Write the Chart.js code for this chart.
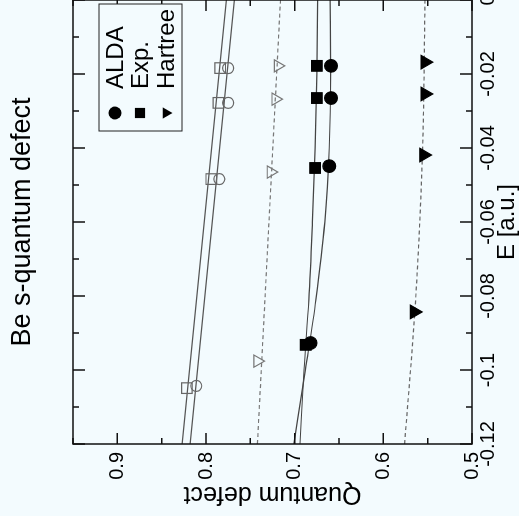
<!DOCTYPE html>
<html><head><meta charset="utf-8">
<script src="https://cdn.jsdelivr.net/npm/chart.js@4.4.1/dist/chart.umd.min.js"></script>
<style>
html,body{margin:0;padding:0;background:#f3fbfe;overflow:hidden;width:519px;height:516px;}
#wrap{position:absolute;left:0;top:0;width:516px;height:519px;transform-origin:0 0;transform:translate(0px,516px) rotate(-90deg);}
canvas{display:block;}
</style></head><body>
<div id="wrap"><canvas id="c" width="516" height="519"></canvas></div>
<script>
// ---- text ----
const TITLE = 'Be s-quantum defect';
const X_TITLE = 'E [a.u.]';
const Y_TITLE = 'Quantum defect';
const E_TICKS = [-0.12, -0.1, -0.08, -0.06, -0.04, -0.02, 0];
const E_TICK_LABELS = ['-0.12', '-0.1', '-0.08', '-0.06', '-0.04', '-0.02', '0'];
const QD_TICKS = [0.5, 0.6, 0.7, 0.8, 0.9];
const QD_TICK_LABELS = ['0.5', '0.6', '0.7', '0.8', '0.9'];
const LEGEND_LABELS = ['ALDA', 'Exp.', 'Hartree'];

// ---- filled markers ----
const E_ALDA = [-0.0178, -0.0265, -0.0449, -0.0927];
const QD_ALDA = [0.659, 0.659, 0.661, 0.682];
const E_EXP = [-0.0178, -0.0265, -0.0454, -0.0932];
const QD_EXP = [0.675, 0.675, 0.677, 0.6875];
const E_HARTREE = [-0.0168, -0.0254, -0.0419, -0.0843];
const QD_HARTREE = [0.553, 0.553, 0.5545, 0.565];

// ---- open markers ----
const E_OPEN_CIRCLE = [-0.0184, -0.0278, -0.0484, -0.1043];
const QD_OPEN_CIRCLE = [0.775, 0.775, 0.785, 0.811];
const E_OPEN_SQUARE = [-0.0184, -0.0278, -0.0484, -0.1049];
const QD_OPEN_SQUARE = [0.784, 0.786, 0.794, 0.8216];
const E_OPEN_TRIANGLE = [-0.0178, -0.0268, -0.0465, -0.0976];
const QD_OPEN_TRIANGLE = [0.719, 0.7216, 0.727, 0.742];

// ---- fitted curves ----
const E_FIT_ALDA = [-0.12, -0.1, -0.081, -0.06, -0.04, -0.02, 0];
const QD_FIT_ALDA = [0.701, 0.688, 0.676, 0.666, 0.661, 0.6595, 0.660];
const E_FIT_EXP = [-0.12, -0.1, -0.081, -0.06, -0.04, -0.02, 0];
const QD_FIT_EXP = [0.694, 0.6895, 0.684, 0.680, 0.677, 0.675, 0.674];
const E_FIT_HARTREE = [-0.12, -0.081, -0.04, 0];
const QD_FIT_HARTREE = [0.576, 0.5636, 0.5557, 0.553];
const E_FIT_OPEN_CIRCLE = [-0.12, 0];
const QD_FIT_OPEN_CIRCLE = [0.818, 0.768];
const E_FIT_OPEN_SQUARE = [-0.12, 0];
const QD_FIT_OPEN_SQUARE = [0.827, 0.777];
const E_FIT_OPEN_TRIANGLE = [-0.12, 0];
const QD_FIT_OPEN_TRIANGLE = [0.742, 0.716];

const BG = '#f3fbfe';
const FONT = '"Liberation Sans", Arial, Helvetica, sans-serif';

function pts(xs, ys) { return xs.map((v, i) => ({x: v, y: ys[i]})); }
function lookup(vals, labels, v) {
  for (let i = 0; i < vals.length; i++) if (Math.abs(vals[i] - v) < 1e-6) return labels[i];
  return '';
}

function markerSet(label, xs, ys, style, r, fill, stroke, rot, legendIdx) {
  return {
    label, data: pts(xs, ys), showLine: false,
    pointStyle: style, pointRadius: r, pointRotation: rot || 0,
    pointBackgroundColor: fill, pointBorderColor: stroke, pointBorderWidth: 1.2,
    legendIdx: legendIdx
  };
}
function lineSet(xs, ys, dash, color, curved) {
  return {
    label: '', data: pts(xs, ys), showLine: true, pointRadius: 0,
    borderColor: color, borderWidth: 1.2, borderDash: dash,
    cubicInterpolationMode: curved ? 'monotone' : 'default', tension: 0, fill: false
  };
}

const datasets = [
  markerSet(LEGEND_LABELS[0], E_ALDA, QD_ALDA, 'circle', 6.3, '#000', '#000', 0, 0),
  markerSet(LEGEND_LABELS[1], E_EXP, QD_EXP, 'rect', 7.5, '#000', '#000', 0, 1),
  markerSet(LEGEND_LABELS[2], E_HARTREE, QD_HARTREE, 'triangle', 7.8, '#000', '#000', 180, 2),
  markerSet('', E_OPEN_CIRCLE, QD_OPEN_CIRCLE, 'circle', 5.5, 'rgba(0,0,0,0)', '#666', 0),
  markerSet('', E_OPEN_SQUARE, QD_OPEN_SQUARE, 'rect', 7.5, 'rgba(0,0,0,0)', '#666', 0),
  markerSet('', E_OPEN_TRIANGLE, QD_OPEN_TRIANGLE, 'triangle', 7, 'rgba(0,0,0,0)', '#777', 180),
  lineSet(E_FIT_ALDA, QD_FIT_ALDA, [], '#444', true),
  lineSet(E_FIT_EXP, QD_FIT_EXP, [], '#444', true),
  lineSet(E_FIT_HARTREE, QD_FIT_HARTREE, [4, 3], '#666', true),
  lineSet(E_FIT_OPEN_CIRCLE, QD_FIT_OPEN_CIRCLE, [], '#555', false),
  lineSet(E_FIT_OPEN_SQUARE, QD_FIT_OPEN_SQUARE, [], '#555', false),
  lineSet(E_FIT_OPEN_TRIANGLE, QD_FIT_OPEN_TRIANGLE, [4, 3], '#777', false)
];

function drawMarker(ctx, style, x, y, r) {
  ctx.beginPath();
  if (style === 'circle') { ctx.arc(x, y, r, 0, Math.PI * 2); }
  else if (style === 'rect') { const s = r * Math.SQRT1_2; ctx.rect(x - s, y - s, 2 * s, 2 * s); }
  else { ctx.moveTo(x - r * 0.866, y - r / 2); ctx.lineTo(x + r * 0.866, y - r / 2); ctx.lineTo(x, y + r); ctx.closePath(); }
  ctx.fill();
}

const framePlugin = {
  id: 'frame',
  beforeDraw(chart) {
    const {ctx, width, height} = chart;
    ctx.save(); ctx.fillStyle = BG; ctx.fillRect(0, 0, width, height); ctx.restore();
  },
  afterDraw(chart) {
    const {ctx, chartArea: a, scales: {x, y}} = chart;
    ctx.save();
    ctx.strokeStyle = '#111'; ctx.lineWidth = 1.5;
    ctx.beginPath();
    x.ticks.forEach(t => {
      const px = x.getPixelForValue(t.value);
      const len = t.label ? 12 : 6;
      ctx.moveTo(px, a.bottom); ctx.lineTo(px, a.bottom - len);
      ctx.moveTo(px, a.top); ctx.lineTo(px, a.top + len);
    });
    y.ticks.forEach(t => {
      const py = y.getPixelForValue(t.value);
      const len = t.label ? 11 : 6;
      ctx.moveTo(a.left, py); ctx.lineTo(a.left + len, py);
      ctx.moveTo(a.right, py); ctx.lineTo(a.right - len, py);
    });
    ctx.stroke();
    ctx.strokeRect(a.left, a.top, a.right - a.left, a.bottom - a.top);

    // legend box
    const bx = a.right - 131, by = a.top + 26, bw = 127, bh = 83;
    ctx.fillStyle = BG; ctx.fillRect(bx, by, bw, bh);
    ctx.lineWidth = 1; ctx.strokeStyle = '#222';
    ctx.strokeRect(bx, by, bw, bh);
    const rows = [a.top + 42, a.top + 67, a.top + 93];
    const entries = chart.data.datasets.filter(d => d.legendIdx !== undefined);
    ctx.font = '24px ' + FONT; ctx.textBaseline = 'middle'; ctx.textAlign = 'left';
    entries.forEach(d => {
      const ry = rows[d.legendIdx];
      ctx.fillStyle = '#000';
      const r = d.pointStyle === 'circle' ? 6.5 : (d.pointStyle === 'rect' ? 7.2 : 6.5);
      drawMarker(ctx, d.pointStyle, a.right - 113, ry, r);
      ctx.fillText(d.label, a.right - 89, ry + 1);
    });
    ctx.restore();
  }
};

new Chart(document.getElementById('c'), {
  type: 'scatter',
  data: {datasets},
  plugins: [framePlugin],
  options: {
    responsive: false, animation: false, devicePixelRatio: 1, events: [],
    layout: {padding: 0, autoPadding: false},
    plugins: {
      legend: {display: false},
      tooltip: {enabled: false},
      title: {
        display: true, text: TITLE, fullSize: false, color: '#000',
        font: {family: FONT, size: 27, weight: 'normal', lineHeight: 1.2},
        padding: {top: 6.8, bottom: 33.8}
      }
    },
    scales: {
      x: {
        type: 'linear', position: 'bottom', min: -0.12, max: 0,
        grid: {display: false, drawTicks: false}, border: {display: false},
        ticks: {
          stepSize: 0.01, autoSkip: false, maxRotation: 0, minRotation: 0, padding: 4,
          color: '#000', font: {family: FONT, size: 20},
          callback: v => lookup(E_TICKS, E_TICK_LABELS, v)
        },
        title: {display: true, text: X_TITLE, color: '#000',
          font: {family: FONT, size: 24, lineHeight: 0.96}, padding: {top: 0, bottom: 0}},
        afterFit(s) { s.height = 47; s.paddingLeft = 0; s.paddingRight = 0; }
      },
      y: {
        type: 'linear', position: 'left', min: 0.5, max: 0.95,
        grid: {display: false, drawTicks: false}, border: {display: false},
        ticks: {
          stepSize: 0.05, autoSkip: false, padding: 8,
          color: '#000', font: {family: FONT, size: 20},
          callback: v => lookup(QD_TICKS, QD_TICK_LABELS, v)
        },
        title: {display: true, text: Y_TITLE, color: '#000',
          font: {family: FONT, size: 25, lineHeight: 1.2}, padding: {top: 7.5, bottom: 0}},
        afterFit(s) { s.width = 72; s.paddingTop = 0; s.paddingBottom = 0; }
      }
    }
  }
});
</script>
</body></html>
